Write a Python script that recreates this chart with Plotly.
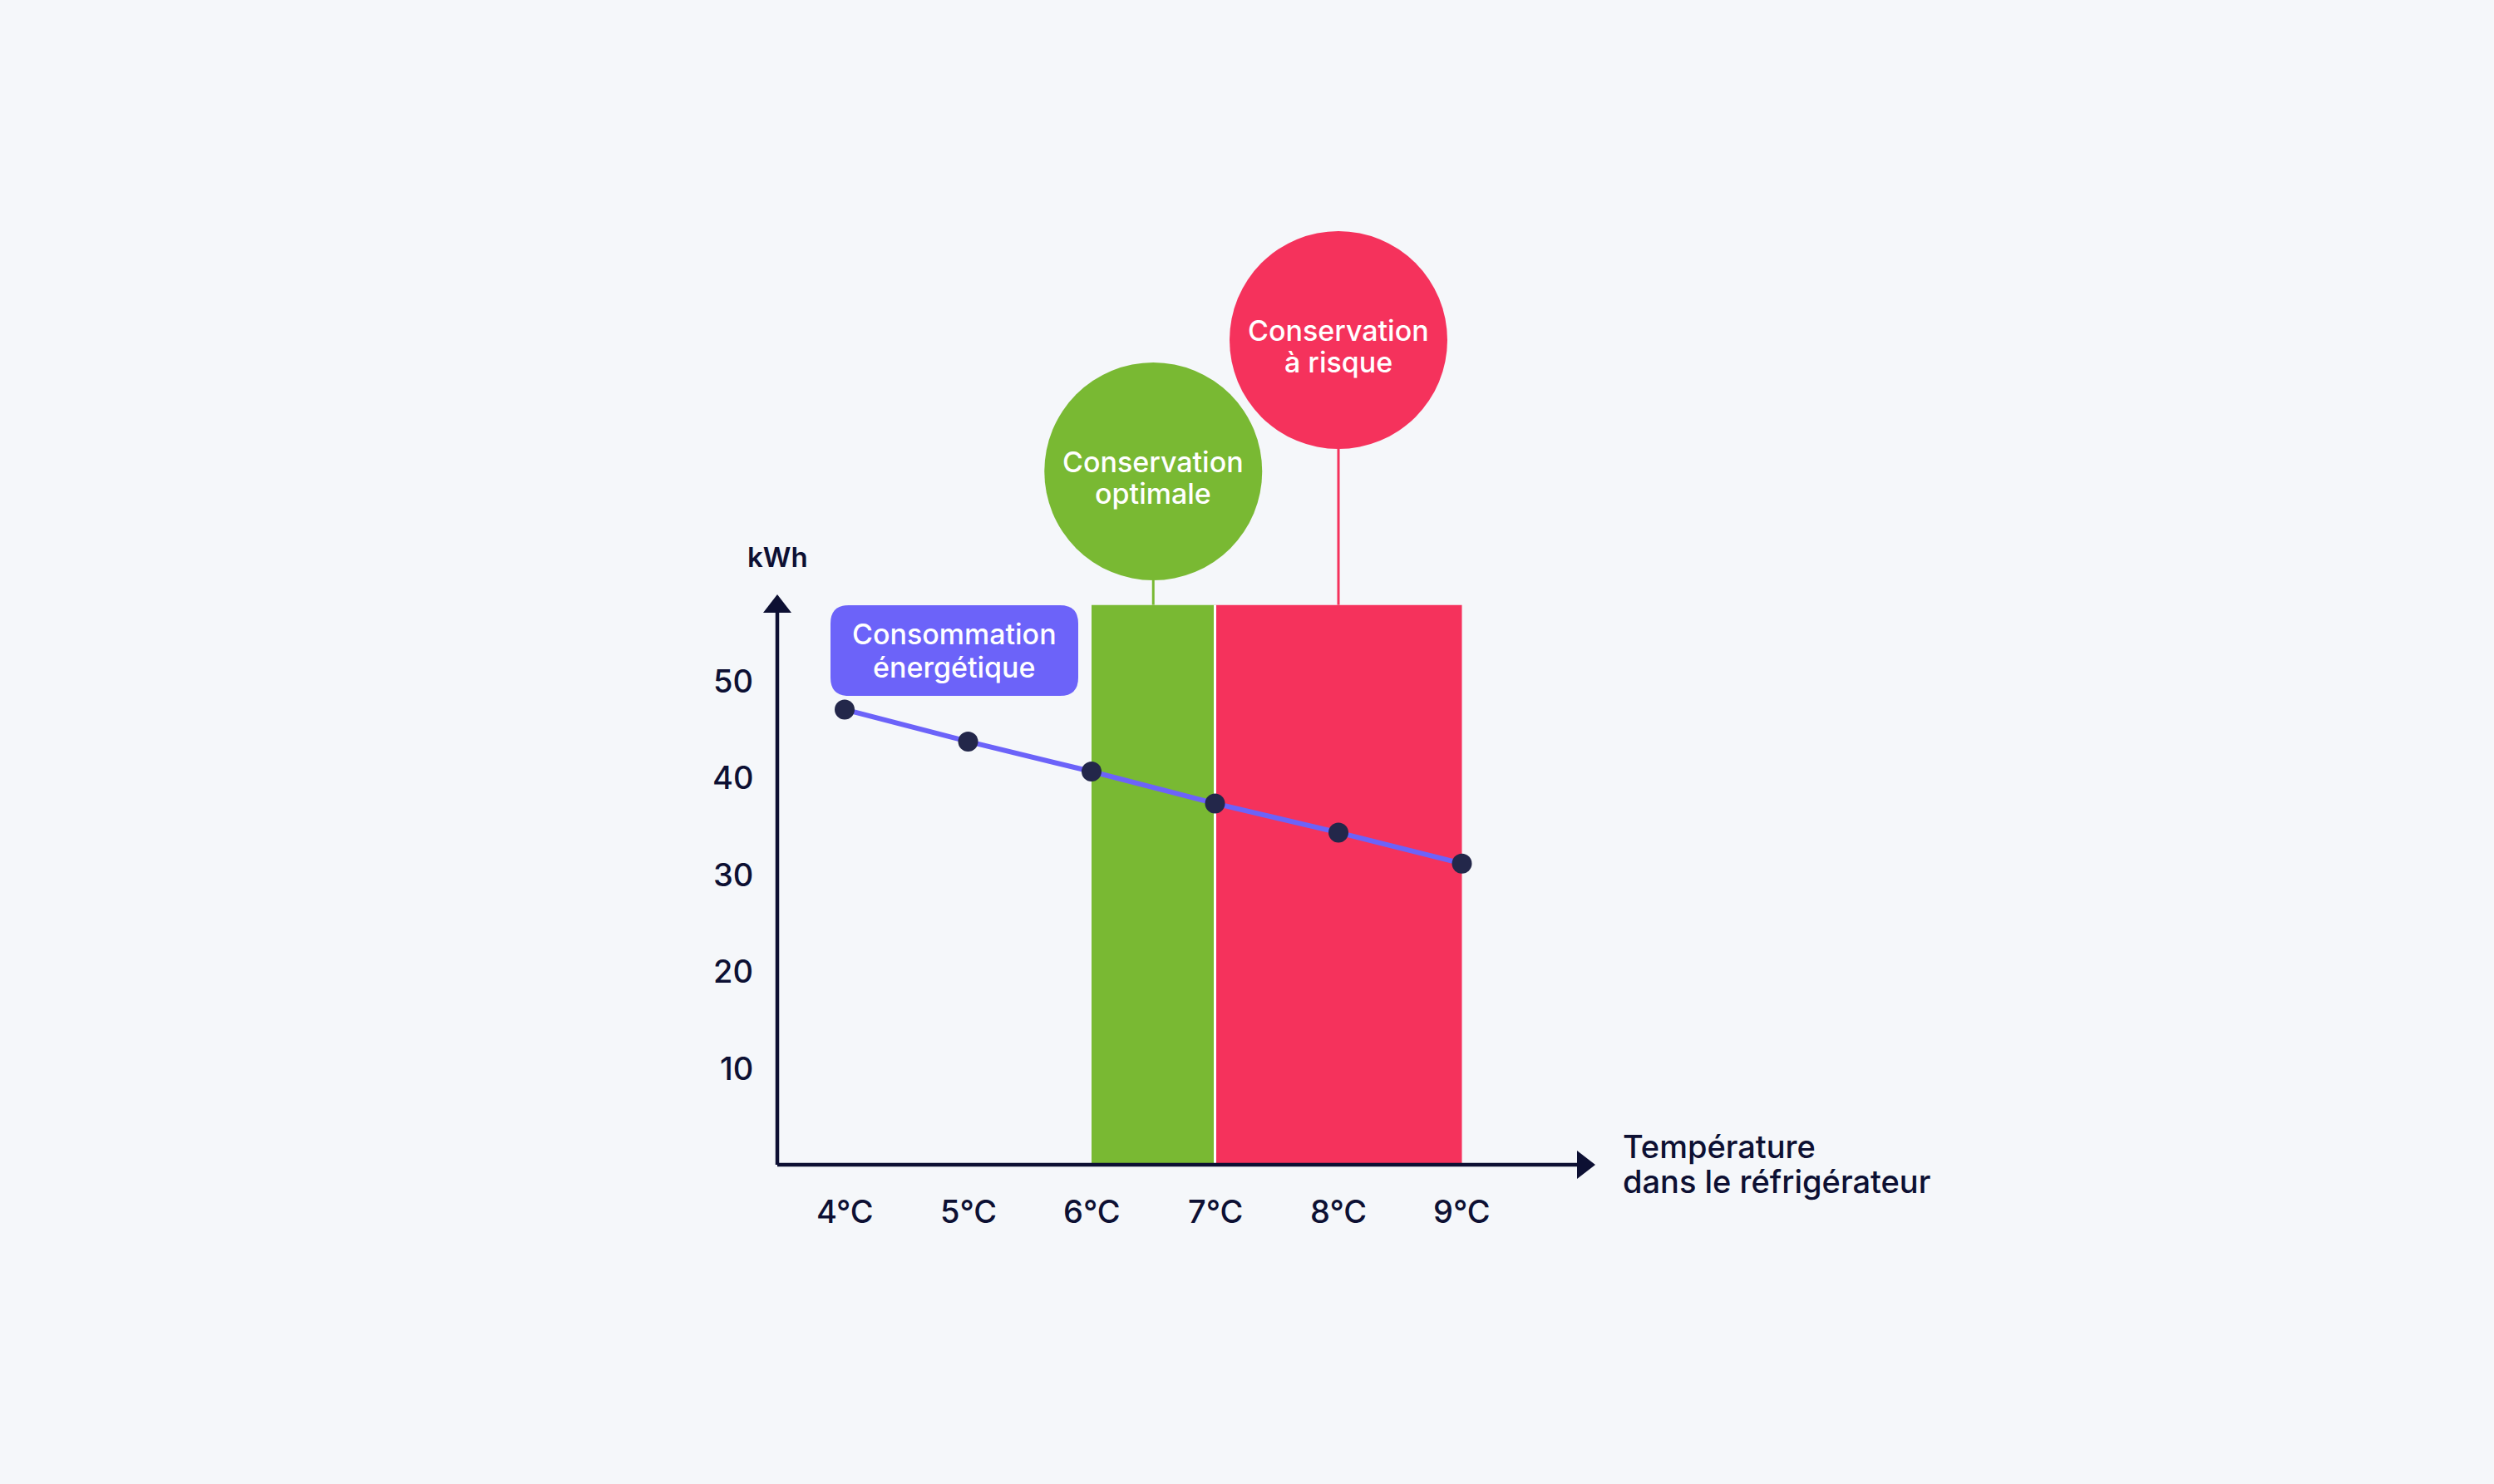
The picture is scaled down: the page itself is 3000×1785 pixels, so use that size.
import plotly.graph_objects as go

# ---------------- data ----------------
temps = [4, 5, 6, 7, 8, 9]
temp_labels = ["4°C", "5°C", "6°C", "7°C", "8°C", "9°C"]
kwh = [47.0, 43.7, 40.6, 37.3, 34.3, 31.1]
y_ticks = [10, 20, 30, 40, 50]
y_tick_labels = ["10", "20", "30", "40", "50"]

zone_labels = ["Conservation<br>optimale", "Conservation<br>à risque"]
zone_start = [6, 7]
zone_end = [7, 9]
zone_top = 57.8
zone_colors = ["#79B933", "#F5325C"]

series_label = "Consommation<br>énergétique"
y_title = "kWh"
x_title = "Température<br>dans le réfrigérateur"

# ---------------- layout helpers (pixel -> data) ----------------
W, H = 3000, 1785
X_REF_PX, X_UNIT = 1016.0, 148.5   # x=4 at 1016px, 148.5 px per °C
Y_ZERO_PX, Y_UNIT = 1401.0, 11.65  # y=0 at 1401px, 11.65 px per kWh


def dx(px):
    return 4 + (px - X_REF_PX) / X_UNIT


def dy(py):
    return (Y_ZERO_PX - py) / Y_UNIT


BG = "#F5F7FA"
INK = "#0D1033"
PURPLE = "#6C63F9"
DOT = "#23274A"
FONT = "Inter"

fig = go.Figure()

shapes = []
# zone bands
for s, e, c in zip(zone_start, zone_end, zone_colors):
    shapes.append(dict(type="rect", xref="x", yref="y", x0=s, x1=e, y0=0, y1=zone_top,
                       fillcolor=c, line=dict(width=0), layer="below"))
# white separator between bands
shapes.append(dict(type="line", xref="x", yref="y", x0=zone_end[0], x1=zone_end[0],
                   y0=0, y1=zone_top, line=dict(color="#FFFFFF", width=3), layer="below"))

# circles + connectors
circle_r = 131
circle_cy_px = [567, 409]
for s, e, c, cy in zip(zone_start, zone_end, zone_colors, circle_cy_px):
    cxd = (s + e) / 2
    cx_px = X_REF_PX + (cxd - 4) * X_UNIT
    shapes.append(dict(type="line", xref="x", yref="y", x0=cxd, x1=cxd,
                       y0=zone_top, y1=dy(cy + circle_r), line=dict(color=c, width=3),
                       layer="below"))
    shapes.append(dict(type="circle", xref="x", yref="y",
                       x0=dx(cx_px - circle_r), x1=dx(cx_px + circle_r),
                       y0=dy(cy + circle_r), y1=dy(cy - circle_r),
                       fillcolor=c, line=dict(width=0), layer="below"))

# axes
axis_x_px = 935
shapes.append(dict(type="line", xref="x", yref="y", x0=dx(axis_x_px), x1=dx(1900), y0=0, y1=0,
                   line=dict(color=INK, width=4.5), layer="above"))
shapes.append(dict(type="line", xref="x", yref="y", x0=dx(axis_x_px), x1=dx(axis_x_px),
                   y0=0, y1=dy(734), line=dict(color=INK, width=4.5), layer="above"))
# arrow heads
xa_tip, xa_base, ha = 1919, 1897, 17
shapes.append(dict(type="path", xref="x", yref="y",
                   path=f"M {dx(xa_tip)},{dy(1401)} L {dx(xa_base)},{dy(1401 - ha)} "
                        f"L {dx(xa_base)},{dy(1401 + ha)} Z",
                   fillcolor=INK, line=dict(width=0), layer="above"))
ya_tip, ya_base = 715, 737
shapes.append(dict(type="path", xref="x", yref="y",
                   path=f"M {dx(axis_x_px)},{dy(ya_tip)} L {dx(axis_x_px - ha)},{dy(ya_base)} "
                        f"L {dx(axis_x_px + ha)},{dy(ya_base)} Z",
                   fillcolor=INK, line=dict(width=0), layer="above"))

# rounded label box
bx0, bx1, by0, by1, rr = 999, 1297, 728, 837, 22
box_path = (
    f"M {dx(bx0 + rr)},{dy(by0)} L {dx(bx1 - rr)},{dy(by0)} "
    f"Q {dx(bx1)},{dy(by0)} {dx(bx1)},{dy(by0 + rr)} "
    f"L {dx(bx1)},{dy(by1 - rr)} Q {dx(bx1)},{dy(by1)} {dx(bx1 - rr)},{dy(by1)} "
    f"L {dx(bx0 + rr)},{dy(by1)} Q {dx(bx0)},{dy(by1)} {dx(bx0)},{dy(by1 - rr)} "
    f"L {dx(bx0)},{dy(by0 + rr)} Q {dx(bx0)},{dy(by0)} {dx(bx0 + rr)},{dy(by0)} Z"
)
shapes.append(dict(type="path", xref="x", yref="y", path=box_path,
                   fillcolor=PURPLE, line=dict(width=0), layer="below"))

# ---------------- series ----------------
fig.add_trace(go.Scatter(
    x=temps, y=kwh, mode="lines+markers",
    line=dict(color=PURPLE, width=6),
    marker=dict(color=DOT, size=24, line=dict(width=0)),
    hoverinfo="skip", showlegend=False,
))

annotations = []


def add_lines(text, x, center_py, spacing, size, color, weight, xanchor="center"):
    lines = text.split("<br>")
    n = len(lines)
    for i, ln in enumerate(lines):
        py = center_py + (i - (n - 1) / 2) * spacing
        annotations.append(dict(x=x, y=dy(py), xref="x", yref="y", text=ln, showarrow=False,
                                xanchor=xanchor, yanchor="middle",
                                font=dict(family=FONT, size=size, color=color, weight=weight)))


# y tick labels
for v, t in zip(y_ticks, y_tick_labels):
    annotations.append(dict(x=dx(908), y=v, xref="x", yref="y", text=t, showarrow=False,
                            xanchor="right", yanchor="middle",
                            font=dict(family=FONT, size=38, color=INK, weight=500)))
# x tick labels
for v, t in zip(temps, temp_labels):
    annotations.append(dict(x=v, y=dy(1457), xref="x", yref="y", text=t, showarrow=False,
                            xanchor="center", yanchor="middle",
                            font=dict(family=FONT, size=38, color=INK, weight=500)))
# axis titles
annotations.append(dict(x=dx(axis_x_px), y=dy(670), xref="x", yref="y", text=y_title,
                        showarrow=False, xanchor="center", yanchor="middle",
                        font=dict(family=FONT, size=33, color=INK, weight=600)))
add_lines(x_title, dx(1950), 1400, 42, 38, INK, 500, xanchor="left")
# zone labels in circles
for s, e, cy, lab in zip(zone_start, zone_end, circle_cy_px, zone_labels):
    add_lines(lab, (s + e) / 2, cy + 7, 38, 34, "#FFFFFF", 500)
# series label
add_lines(series_label, dx((bx0 + bx1) / 2), (by0 + by1) / 2, 40, 34, "#FFFFFF", 500)

fig.update_layout(
    width=W, height=H,
    margin=dict(l=0, r=0, t=0, b=0),
    paper_bgcolor=BG, plot_bgcolor=BG,
    xaxis=dict(range=[dx(0), dx(W)], visible=False, fixedrange=True),
    yaxis=dict(range=[dy(H), dy(0)], visible=False, fixedrange=True),
    shapes=shapes, annotations=annotations, showlegend=False,
)

fig.write_html("out.html")
